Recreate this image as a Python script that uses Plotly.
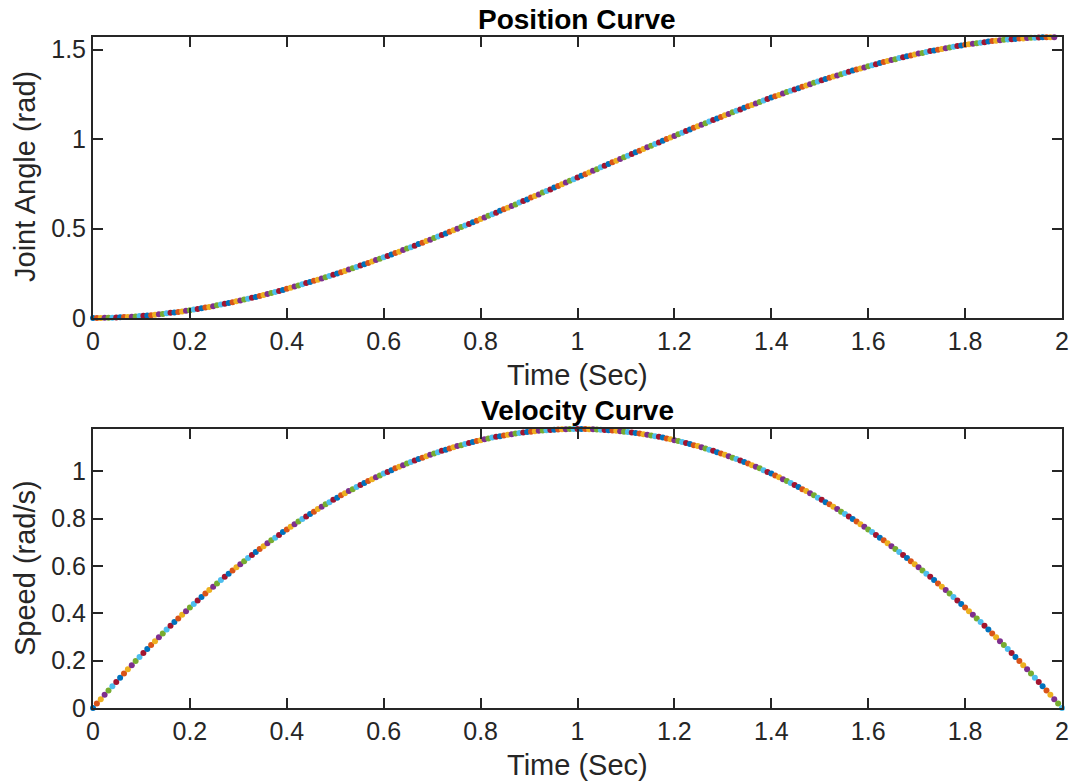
import plotly.graph_objects as go

# ---------------- data ----------------
time_s = [
    0.000, 0.008, 0.016, 0.024, 0.032, 0.040, 0.048, 0.056, 0.064, 0.072,
    0.080, 0.088, 0.096, 0.104, 0.112, 0.120, 0.128, 0.136, 0.144, 0.152,
    0.160, 0.168, 0.176, 0.184, 0.192, 0.200, 0.208, 0.216, 0.224, 0.232,
    0.240, 0.248, 0.256, 0.264, 0.272, 0.280, 0.288, 0.296, 0.304, 0.312,
    0.320, 0.328, 0.336, 0.344, 0.352, 0.360, 0.368, 0.376, 0.384, 0.392,
    0.400, 0.408, 0.416, 0.424, 0.432, 0.440, 0.448, 0.456, 0.464, 0.472,
    0.480, 0.488, 0.496, 0.504, 0.512, 0.520, 0.528, 0.536, 0.544, 0.552,
    0.560, 0.568, 0.576, 0.584, 0.592, 0.600, 0.608, 0.616, 0.624, 0.632,
    0.640, 0.648, 0.656, 0.664, 0.672, 0.680, 0.688, 0.696, 0.704, 0.712,
    0.720, 0.728, 0.736, 0.744, 0.752, 0.760, 0.768, 0.776, 0.784, 0.792,
    0.800, 0.808, 0.816, 0.824, 0.832, 0.840, 0.848, 0.856, 0.864, 0.872,
    0.880, 0.888, 0.896, 0.904, 0.912, 0.920, 0.928, 0.936, 0.944, 0.952,
    0.960, 0.968, 0.976, 0.984, 0.992, 1.000, 1.008, 1.016, 1.024, 1.032,
    1.040, 1.048, 1.056, 1.064, 1.072, 1.080, 1.088, 1.096, 1.104, 1.112,
    1.120, 1.128, 1.136, 1.144, 1.152, 1.160, 1.168, 1.176, 1.184, 1.192,
    1.200, 1.208, 1.216, 1.224, 1.232, 1.240, 1.248, 1.256, 1.264, 1.272,
    1.280, 1.288, 1.296, 1.304, 1.312, 1.320, 1.328, 1.336, 1.344, 1.352,
    1.360, 1.368, 1.376, 1.384, 1.392, 1.400, 1.408, 1.416, 1.424, 1.432,
    1.440, 1.448, 1.456, 1.464, 1.472, 1.480, 1.488, 1.496, 1.504, 1.512,
    1.520, 1.528, 1.536, 1.544, 1.552, 1.560, 1.568, 1.576, 1.584, 1.592,
    1.600, 1.608, 1.616, 1.624, 1.632, 1.640, 1.648, 1.656, 1.664, 1.672,
    1.680, 1.688, 1.696, 1.704, 1.712, 1.720, 1.728, 1.736, 1.744, 1.752,
    1.760, 1.768, 1.776, 1.784, 1.792, 1.800, 1.808, 1.816, 1.824, 1.832,
    1.840, 1.848, 1.856, 1.864, 1.872, 1.880, 1.888, 1.896, 1.904, 1.912,
    1.920, 1.928, 1.936, 1.944, 1.952, 1.960, 1.968, 1.976, 1.984, 1.992,
    2.000,
]

joint_angle_rad = [
    0.000, 0.000, 0.000, 0.001, 0.001, 0.002, 0.003, 0.004, 0.005, 0.006,
    0.007, 0.009, 0.011, 0.012, 0.014, 0.016, 0.018, 0.021, 0.023, 0.026,
    0.029, 0.031, 0.034, 0.037, 0.041, 0.044, 0.047, 0.051, 0.055, 0.059,
    0.062, 0.066, 0.071, 0.075, 0.079, 0.084, 0.088, 0.093, 0.098, 0.103,
    0.108, 0.113, 0.118, 0.123, 0.129, 0.134, 0.140, 0.146, 0.151, 0.157,
    0.163, 0.169, 0.176, 0.182, 0.188, 0.195, 0.201, 0.208, 0.214, 0.221,
    0.228, 0.235, 0.242, 0.249, 0.256, 0.263, 0.271, 0.278, 0.285, 0.293,
    0.300, 0.308, 0.316, 0.324, 0.331, 0.339, 0.347, 0.355, 0.363, 0.371,
    0.380, 0.388, 0.396, 0.404, 0.413, 0.421, 0.430, 0.438, 0.447, 0.455,
    0.464, 0.473, 0.482, 0.490, 0.499, 0.508, 0.517, 0.526, 0.535, 0.544,
    0.553, 0.562, 0.571, 0.580, 0.589, 0.599, 0.608, 0.617, 0.626, 0.635,
    0.645, 0.654, 0.663, 0.673, 0.682, 0.691, 0.701, 0.710, 0.719, 0.729,
    0.738, 0.748, 0.757, 0.767, 0.776, 0.785, 0.795, 0.804, 0.814, 0.823,
    0.832, 0.842, 0.851, 0.861, 0.870, 0.879, 0.889, 0.898, 0.907, 0.917,
    0.926, 0.935, 0.945, 0.954, 0.963, 0.972, 0.981, 0.991, 1.000, 1.009,
    1.018, 1.027, 1.036, 1.045, 1.054, 1.063, 1.072, 1.080, 1.089, 1.098,
    1.107, 1.115, 1.124, 1.133, 1.141, 1.150, 1.158, 1.166, 1.175, 1.183,
    1.191, 1.199, 1.207, 1.216, 1.224, 1.232, 1.239, 1.247, 1.255, 1.263,
    1.270, 1.278, 1.285, 1.293, 1.300, 1.307, 1.315, 1.322, 1.329, 1.336,
    1.343, 1.350, 1.356, 1.363, 1.370, 1.376, 1.383, 1.389, 1.395, 1.401,
    1.407, 1.413, 1.419, 1.425, 1.431, 1.436, 1.442, 1.447, 1.453, 1.458,
    1.463, 1.468, 1.473, 1.478, 1.482, 1.487, 1.492, 1.496, 1.500, 1.504,
    1.508, 1.512, 1.516, 1.520, 1.523, 1.527, 1.530, 1.533, 1.536, 1.539,
    1.542, 1.545, 1.548, 1.550, 1.552, 1.555, 1.557, 1.558, 1.560, 1.562,
    1.563, 1.565, 1.566, 1.567, 1.568, 1.569, 1.570, 1.570, 1.570, 1.571,
    1.571,
]

speed_rad_s = [
    0.000, 0.019, 0.037, 0.056, 0.074, 0.092, 0.110, 0.128, 0.146, 0.164,
    0.181, 0.198, 0.215, 0.232, 0.249, 0.266, 0.282, 0.299, 0.315, 0.331,
    0.347, 0.363, 0.378, 0.394, 0.409, 0.424, 0.439, 0.454, 0.469, 0.483,
    0.498, 0.512, 0.526, 0.540, 0.554, 0.567, 0.581, 0.594, 0.607, 0.620,
    0.633, 0.646, 0.659, 0.671, 0.683, 0.696, 0.708, 0.719, 0.731, 0.743,
    0.754, 0.765, 0.776, 0.787, 0.798, 0.809, 0.819, 0.829, 0.840, 0.850,
    0.860, 0.869, 0.879, 0.888, 0.898, 0.907, 0.916, 0.924, 0.933, 0.942,
    0.950, 0.958, 0.966, 0.974, 0.982, 0.990, 0.997, 1.004, 1.012, 1.019,
    1.025, 1.032, 1.039, 1.045, 1.051, 1.057, 1.063, 1.069, 1.075, 1.080,
    1.086, 1.091, 1.096, 1.101, 1.106, 1.110, 1.115, 1.119, 1.123, 1.127,
    1.131, 1.135, 1.138, 1.142, 1.145, 1.148, 1.151, 1.154, 1.156, 1.159,
    1.161, 1.163, 1.165, 1.167, 1.169, 1.171, 1.172, 1.173, 1.174, 1.175,
    1.176, 1.177, 1.177, 1.178, 1.178, 1.178, 1.178, 1.178, 1.177, 1.177,
    1.176, 1.175, 1.174, 1.173, 1.172, 1.171, 1.169, 1.167, 1.165, 1.163,
    1.161, 1.159, 1.156, 1.154, 1.151, 1.148, 1.145, 1.142, 1.138, 1.135,
    1.131, 1.127, 1.123, 1.119, 1.115, 1.110, 1.106, 1.101, 1.096, 1.091,
    1.086, 1.080, 1.075, 1.069, 1.063, 1.057, 1.051, 1.045, 1.039, 1.032,
    1.025, 1.019, 1.012, 1.004, 0.997, 0.990, 0.982, 0.974, 0.966, 0.958,
    0.950, 0.942, 0.933, 0.924, 0.916, 0.907, 0.898, 0.888, 0.879, 0.869,
    0.860, 0.850, 0.840, 0.829, 0.819, 0.809, 0.798, 0.787, 0.776, 0.765,
    0.754, 0.743, 0.731, 0.719, 0.708, 0.696, 0.683, 0.671, 0.659, 0.646,
    0.633, 0.620, 0.607, 0.594, 0.581, 0.567, 0.554, 0.540, 0.526, 0.512,
    0.498, 0.483, 0.469, 0.454, 0.439, 0.424, 0.409, 0.394, 0.378, 0.363,
    0.347, 0.331, 0.315, 0.299, 0.282, 0.266, 0.249, 0.232, 0.215, 0.198,
    0.181, 0.164, 0.146, 0.128, 0.110, 0.092, 0.074, 0.056, 0.037, 0.019,
    0.000,
]

x_tick_vals = [0, 0.2, 0.4, 0.6, 0.8, 1, 1.2, 1.4, 1.6, 1.8, 2]
x_tick_text = ["0", "0.2", "0.4", "0.6", "0.8", "1", "1.2", "1.4", "1.6", "1.8", "2"]
pos_tick_vals = [0, 0.5, 1, 1.5]
pos_tick_text = ["0", "0.5", "1", "1.5"]
vel_tick_vals = [0, 0.2, 0.4, 0.6, 0.8, 1]
vel_tick_text = ["0", "0.2", "0.4", "0.6", "0.8", "1"]

# ---------------- style ----------------
W, H = 1072, 782
MATLAB_COLORS = ["#0072BD", "#D95319", "#EDB120", "#7E2F8E",
                 "#77AC30", "#4DBEEE", "#A2142F"]
point_colors = [MATLAB_COLORS[i % len(MATLAB_COLORS)] for i in range(len(time_s))]
FONT = "Arial, Liberation Sans, Helvetica, sans-serif"
AX_COLOR = "#262626"

def px_x(x):
    return x / W

def px_y(y):
    return 1 - y / H

fig = go.Figure()
fig.add_trace(go.Scatter(
    x=time_s, y=joint_angle_rad, mode="markers",
    marker=dict(size=6, color=point_colors, line=dict(width=0)),
    cliponaxis=False, xaxis="x", yaxis="y", showlegend=False,
))
fig.add_trace(go.Scatter(
    x=time_s, y=speed_rad_s, mode="markers",
    marker=dict(size=6, color=point_colors, line=dict(width=0)),
    cliponaxis=False, xaxis="x2", yaxis="y2", showlegend=False,
))

axis_common = dict(
    showgrid=False, zeroline=False, showline=True, linecolor=AX_COLOR,
    linewidth=2, mirror="ticks", ticks="inside", ticklen=10, tickwidth=2,
    tickcolor=AX_COLOR, tickfont=dict(family=FONT, size=25, color=AX_COLOR),
    automargin=False,
)

x_dom = [px_x(93), px_x(1062)]
fig.update_layout(
    width=W, height=H,
    margin=dict(l=0, r=0, t=0, b=0, autoexpand=False),
    paper_bgcolor="white", plot_bgcolor="white",
    xaxis=dict(domain=x_dom, range=[0, 2], anchor="y",
               tickvals=x_tick_vals, ticktext=x_tick_text, **axis_common),
    yaxis=dict(domain=[px_y(318), px_y(37)], range=[0, 1.5708], anchor="x",
               tickvals=pos_tick_vals, ticktext=pos_tick_text, **axis_common),
    xaxis2=dict(domain=x_dom, range=[0, 2], anchor="y2",
                tickvals=x_tick_vals, ticktext=x_tick_text, **axis_common),
    yaxis2=dict(domain=[px_y(708), px_y(429)], range=[0, 1.1781], anchor="x2",
                tickvals=vel_tick_vals, ticktext=vel_tick_text, **axis_common),
)

label_font = dict(family=FONT, size=29, color=AX_COLOR)
title_font = dict(family=FONT, size=28, color="#000000")

def add_text(text, x, y, font, angle=0):
    fig.add_annotation(text=text, x=px_x(x), y=px_y(y), xref="paper", yref="paper",
                       xanchor="center", yanchor="middle", showarrow=False,
                       font=font, textangle=angle)

add_text("<b>Position Curve</b>", 577, 19, title_font)
add_text("<b>Velocity Curve</b>", 577, 410, title_font)
add_text("Time (Sec)", 577, 375, label_font)
add_text("Time (Sec)", 577, 765, label_font)
add_text("Joint Angle (rad)", 25, 177, label_font, angle=-90)
add_text("Speed (rad/s)", 25, 568, label_font, angle=-90)

# remove the default page margin so the figure fills the window exactly
page_js = ("document.documentElement.style.margin='0';"
           "document.body.style.margin='0';"
           "document.documentElement.style.overflow='hidden';"
           "document.body.style.overflow='hidden';")
fig.write_html("out.html", post_script=page_js,
               config={"displayModeBar": False, "staticPlot": True})
